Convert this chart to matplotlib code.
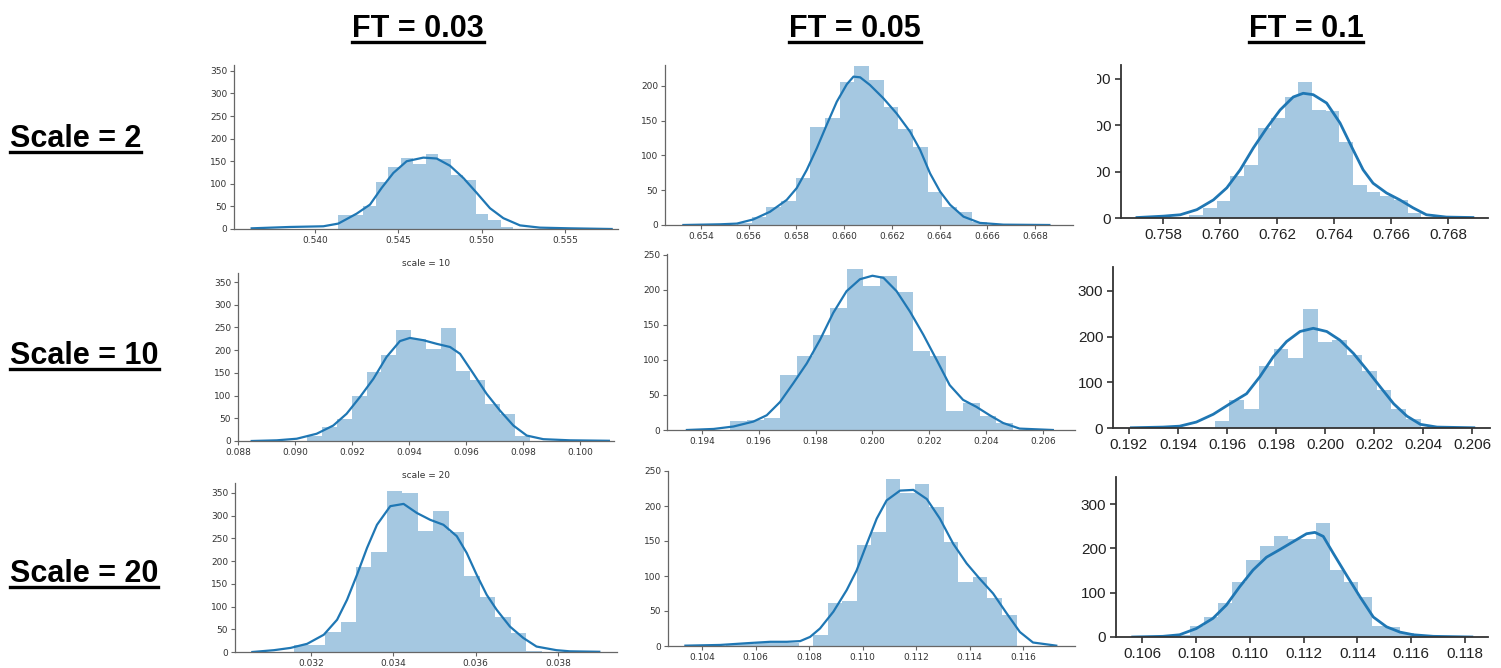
import matplotlib
matplotlib.use("Agg")
import matplotlib.pyplot as plt
import numpy as np
from matplotlib.lines import Line2D
from matplotlib.transforms import Bbox

# ---------------- data ----------------
col_titles = ["FT = 0.03", "FT = 0.05", "FT = 0.1"]
row_titles = ["Scale = 2", "Scale = 10", "Scale = 20"]
sub_title_10 = "scale = 10"
sub_title_20 = "scale = 20"

# Scale = 2, FT = 0.03
h00_start, h00_width = 0.5414, 0.00075
h00_counts = [32, 30, 50, 103, 137, 158, 143, 166, 155, 120, 109, 34, 20, 5]
k00_x = [0.5362, 0.5385, 0.5405, 0.5414, 0.5425, 0.5433, 0.5440, 0.5447, 0.5455, 0.5465,
         0.5473, 0.5481, 0.5489, 0.5497, 0.5505, 0.5513, 0.5523, 0.5535, 0.5553, 0.5578]
k00_y = [1.5, 4.5, 6, 12, 34, 54, 91, 124, 150, 158, 156, 140, 113, 80, 46, 24, 8, 3, 1.5, 0]
xt00 = [0.540, 0.545, 0.550, 0.555]
yt00 = [0, 50, 100, 150, 200, 250, 300, 350]

# Scale = 2, FT = 0.05
h01_start, h01_width = 0.65551, 0.000615
h01_counts = [3, 12, 26, 35, 67, 141, 153, 205, 228, 208, 170, 138, 112, 47, 26, 18, 5]
k01_x = [0.65326, 0.6548, 0.65550, 0.65619, 0.65689, 0.65759, 0.65801, 0.65843, 0.65885,
         0.65927, 0.65969, 0.66011, 0.66039, 0.66067, 0.66108, 0.66164, 0.66220, 0.66276,
         0.66318, 0.66360, 0.66402, 0.66444, 0.66500, 0.66569, 0.66667, 0.6686]
k01_y = [0, 1, 2, 8, 19, 36, 53, 79, 110, 144, 177, 202, 213, 212, 201, 182, 160, 134,
         108, 74, 48, 29, 12, 3, 0.5, 0]
xt01 = [0.654, 0.656, 0.658, 0.660, 0.662, 0.664, 0.666, 0.668]
yt01 = [0, 50, 100, 150, 200]

# Scale = 2, FT = 0.1
h02_start, h02_width = 0.75893, 0.000478
h02_counts = [6, 22, 36, 90, 115, 194, 215, 262, 294, 233, 230, 165, 72, 57, 47, 39, 11]
k02_x = [0.75709, 0.75802, 0.75861, 0.75919, 0.75977, 0.76024, 0.76071, 0.76117, 0.76164,
         0.76211, 0.76257, 0.76292, 0.76327, 0.76374, 0.76421, 0.76467, 0.76502, 0.76537,
         0.76584, 0.76631, 0.76677, 0.76724, 0.76794, 0.76887]
k02_y = [1, 4, 7, 18, 39, 65, 104, 151, 194, 233, 261, 269, 266, 248, 205, 147, 104, 75,
         54, 39, 22, 7, 2, 1]
xt02 = [0.758, 0.760, 0.762, 0.764, 0.766, 0.768]
yt02 = [0, 100, 200, 300]

# Scale = 10, FT = 0.03
h10_start, h10_width = 0.09042, 0.00052
h10_counts = [12, 30, 49, 99, 152, 189, 244, 225, 203, 249, 154, 135, 81, 59, 12]
k10_x = [0.08847, 0.08935, 0.09005, 0.09075, 0.09133, 0.09180, 0.09227, 0.09274, 0.09320,
         0.09367, 0.09402, 0.09449, 0.09496, 0.09543, 0.09578, 0.09625, 0.09671, 0.09718,
         0.09765, 0.09812, 0.09870, 0.09964, 0.1010]
k10_y = [0, 1.5, 5, 16, 34, 60, 97, 137, 185, 220, 227, 222, 214, 207, 192, 148, 104, 67,
         34, 12, 4, 1.5, 0.5]
xt10 = [0.088, 0.090, 0.092, 0.094, 0.096, 0.098, 0.100]
yt10 = [0, 50, 100, 150, 200, 250, 300, 350]

# Scale = 10, FT = 0.05
h11_start, h11_width = 0.19500, 0.000585
h11_counts = [13, 14, 17, 79, 106, 136, 174, 229, 205, 220, 197, 112, 106, 27, 38, 20, 10]
k11_x = [0.19347, 0.19441, 0.19511, 0.19581, 0.19628, 0.19675, 0.19722, 0.19769, 0.19816,
         0.19862, 0.19909, 0.19956, 0.20000, 0.20039, 0.20085, 0.20132, 0.20179, 0.20226,
         0.20272, 0.20319, 0.20366, 0.20413, 0.20460, 0.20518, 0.20635]
k11_y = [0, 1.5, 5, 12, 21, 40, 67, 95, 129, 167, 198, 215, 220, 217, 198, 169, 136, 100,
         64, 43, 33, 21, 10, 2, 0]
xt11 = [0.194, 0.196, 0.198, 0.200, 0.202, 0.204, 0.206]
yt11 = [0, 50, 100, 150, 200, 250]

# Scale = 10, FT = 0.1
h12_start, h12_width = 0.19550, 0.0006
h12_counts = [15, 61, 42, 135, 172, 152, 260, 187, 192, 159, 124, 83, 42, 20]
k12_x = [0.19210, 0.19339, 0.19407, 0.19475, 0.19544, 0.19612, 0.19680, 0.19734, 0.19789,
         0.19843, 0.19898, 0.19952, 0.20007, 0.20061, 0.20116, 0.20171, 0.20225, 0.20280,
         0.20334, 0.20389, 0.20457, 0.20607]
k12_y = [0.5, 2, 4, 13, 30, 53, 75, 112, 156, 189, 211, 218, 211, 192, 163, 127, 90, 53,
         26, 8, 2, 0.5]
xt12 = [0.192, 0.194, 0.196, 0.198, 0.200, 0.202, 0.204, 0.206]
yt12 = [0, 100, 200, 300]

# Scale = 20, FT = 0.03
h20_start, h20_width = 0.031588, 0.0003755
h20_counts = [15, 16, 45, 66, 187, 220, 354, 350, 266, 310, 264, 167, 121, 77, 42, 3]
k20_x = [0.030571, 0.031096, 0.031499, 0.031903, 0.032307, 0.032630, 0.032872, 0.033114,
         0.033357, 0.033599, 0.033922, 0.034245, 0.034568, 0.034891, 0.035214, 0.035537,
         0.035779, 0.036021, 0.036264, 0.036506, 0.036829, 0.037152, 0.037475, 0.037960,
         0.038283, 0.0390]
k20_y = [0, 4, 9, 18, 38, 71, 115, 170, 229, 280, 321, 326, 306, 291, 280, 255, 218, 170,
         126, 93, 56, 31, 12, 4, 1.5, 0.5]
xt20 = [0.032, 0.034, 0.036, 0.038]
yt20 = [0, 50, 100, 150, 200, 250, 300, 350]

# Scale = 20, FT = 0.05
h21_start, h21_width = 0.104914, 0.000542
h21_counts = [3, 3, 4, 4, 4, 0, 16, 62, 65, 145, 163, 238, 218, 231, 199, 148, 91, 98, 69, 44]
k21_x = [0.10338, 0.10468, 0.10568, 0.10655, 0.10717, 0.10767, 0.10804, 0.10841, 0.10891,
         0.10941, 0.10978, 0.11016, 0.11053, 0.11090, 0.11140, 0.11190, 0.11240, 0.11289,
         0.11339, 0.11389, 0.11438, 0.11488, 0.11538, 0.11588, 0.11637, 0.11724]
k21_y = [0.5, 1.5, 4, 6, 6, 7, 13, 25, 49, 80, 108, 146, 182, 208, 222, 223, 210, 182, 146,
         118, 96, 75, 47, 20, 5, 0.5]
xt21 = [0.104, 0.106, 0.108, 0.110, 0.112, 0.114, 0.116]
yt21 = [0, 50, 100, 150, 200, 250]

# Scale = 20, FT = 0.1
h22_start, h22_width = 0.10727, 0.00052
h22_counts = [4, 25, 45, 76, 125, 174, 206, 227, 221, 221, 257, 152, 125, 91, 25, 23, 9]
k22_x = [0.10565, 0.10677, 0.10739, 0.10801, 0.10863, 0.10913, 0.10962, 0.11012, 0.11062,
         0.11111, 0.11161, 0.11211, 0.11242, 0.11273, 0.11310, 0.11359, 0.11409, 0.11459,
         0.11508, 0.11558, 0.11608, 0.11682, 0.11825]
k22_y = [0, 1.5, 5, 19, 42, 72, 113, 151, 180, 197, 215, 233, 236, 227, 189, 140, 91, 45,
         23, 11, 5, 1.5, 0]
xt22 = [0.106, 0.108, 0.110, 0.112, 0.114, 0.116, 0.118]
yt22 = [0, 100, 200, 300]

# ---------------- layout ----------------
W, H = 1501, 668
fig = plt.figure(figsize=(W / 100, H / 100), dpi=100)
fig.patch.set_facecolor("white")

HIST_C = "#1f77b4"
NARROW = ["Liberation Sans", "DejaVu Sans"]

panels = [
    # (start, width, counts, kx, ky, xt, yt, rect px (L, R, T, B), xlim, ymax, col)
    (h00_start, h00_width, h00_counts, k00_x, k00_y, xt00, yt00, (234, 618, 65, 229), (0.53514, 0.55818), 363, 0),
    (h01_start, h01_width, h01_counts, k01_x, k01_y, xt01, yt01, (665, 1073, 65, 225), (0.65249, 0.66959), 229.7, 1),
    (h02_start, h02_width, h02_counts, k02_x, k02_y, xt02, yt02, (1121, 1488, 65, 218), (0.75653, 0.7694), 330, 2),
    (h10_start, h10_width, h10_counts, k10_x, k10_y, xt10, yt10, (238, 614, 273, 441), (0.08799, 0.10118), 370, 0),
    (h11_start, h11_width, h11_counts, k11_x, k11_y, xt11, yt11, (667, 1075, 254, 430), (0.19277, 0.20713), 251, 1),
    (h12_start, h12_width, h12_counts, k12_x, k12_y, xt12, yt12, (1113, 1490, 267, 428), (0.19135, 0.20673), 352, 2),
    (h20_start, h20_width, h20_counts, k20_x, k20_y, xt20, yt20, (235, 617, 483, 652), (0.03015, 0.03943), 372, 0),
    (h21_start, h21_width, h21_counts, k21_x, k21_y, xt21, yt21, (668, 1075, 471, 646), (0.10273, 0.11794), 250, 1),
    (h22_start, h22_width, h22_counts, k22_x, k22_y, xt22, yt22, (1116, 1488, 477, 637), (0.10503, 0.11885), 361, 2),
]

axes = []
for (start, width, counts, kx, ky, xt, yt, rect, xlim, ymax, col) in panels:
    L, R, T, B = rect
    ax = fig.add_axes([L / W, 1 - B / H, (R - L) / W, (B - T) / H])
    edges = start + width * np.arange(len(counts))
    ax.bar(edges, counts, width=width, align="edge", color=HIST_C, alpha=0.4, linewidth=0)
    ax.plot(kx, ky, color=HIST_C, lw=1.6 if col < 2 else 2.0, solid_joinstyle="round")
    ax.set_xlim(*xlim)
    ax.set_ylim(0, ymax)
    ax.set_xticks(xt)
    ax.set_xticklabels([f"{v:.3f}" for v in xt])
    ax.set_yticks(yt)
    ax.set_yticklabels([str(v) for v in yt])
    for s in ("top", "right"):
        ax.spines[s].set_visible(False)
    ax.set_facecolor("none")
    if col < 2:
        for s in ("left", "bottom"):
            ax.spines[s].set_color("#666666")
            ax.spines[s].set_linewidth(0.9)
        ax.tick_params(labelsize=6.5, labelcolor="#333333", color="#666666",
                       length=3, width=0.8, pad=2)
    else:
        for s in ("left", "bottom"):
            ax.spines[s].set_color("#333333")
            ax.spines[s].set_linewidth(1.3)
        ax.tick_params(labelsize=11, labelcolor="#222222", color="#333333",
                       length=4, width=1.2, pad=3)
        for lab in ax.get_xticklabels() + ax.get_yticklabels():
            lab.set_family(NARROW)
    axes.append(ax)

# partially cropped y labels in the top-right panel
clip_box = Bbox([[1097, 0], [W, H]])
for lab in axes[2].get_yticklabels():
    lab.set_clip_box(clip_box)
    lab.set_clip_on(True)

# small subplot titles
fig.text(426 / W, 1 - 263 / H, sub_title_10, ha="center", va="center", fontsize=6.5, color="#333333")
fig.text(426 / W, 1 - 475 / H, sub_title_20, ha="center", va="center", fontsize=6.5, color="#333333")

# big underlined headers
BIG = dict(fontsize=22, fontweight="bold", family=["Liberation Sans", "DejaVu Sans"], color="black")
hdr_texts = []
for cx, t in zip([418, 855, 1306], col_titles):
    hdr_texts.append(fig.text(cx / W, 1 - 37 / H, t, ha="center", va="baseline", **BIG))
for by, t in zip([147, 364, 582], row_titles):
    hdr_texts.append(fig.text(10 / W, 1 - by / H, t, ha="left", va="baseline", **BIG))

fig.canvas.draw()
r = fig.canvas.get_renderer()
for t in hdr_texts:
    bb = t.get_window_extent(renderer=r)
    x0, y0 = t.get_transform().transform(t.get_position())
    yline = (y0 - 5) / H
    fig.add_artist(Line2D([bb.x0 / W, bb.x1 / W], [yline, yline], color="black", lw=2.4,
                          transform=fig.transFigure))

fig.savefig("out.png", dpi=100, facecolor="white")
